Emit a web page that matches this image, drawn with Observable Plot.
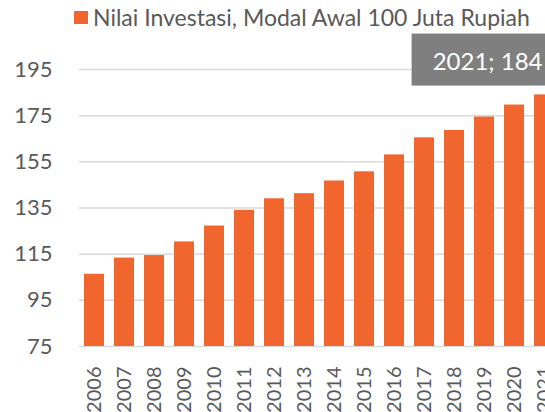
<!DOCTYPE html>
<html>
<head>
<meta charset="utf-8">
<script src="https://cdn.jsdelivr.net/npm/d3@7"></script>
<script src="https://cdn.jsdelivr.net/npm/@observablehq/plot@0.6"></script>
<style>
  html, body { margin: 0; padding: 0; background: #fff; overflow: hidden; }
  #wrap { position: relative; width: 545px; height: 412px; overflow: hidden; font-family: Lato, "Open Sans", sans-serif; }
  #legend { position: absolute; left: 74px; top: 3px; display: flex; align-items: center; color: #595959; font-size: 23px; white-space: nowrap; z-index: 2; }
  #legend .sw { width: 14px; height: 13px; margin-right: 5px; }
</style>
</head>
<body>
<div id="wrap">
  <div id="legend"><span class="sw"></span><span id="legtext"></span></div>
</div>
<script>
const seriesName = "Nilai Investasi, Modal Awal 100 Juta Rupiah";
const years = ["2006","2007","2008","2009","2010","2011","2012","2013","2014","2015","2016","2017","2018","2019","2020","2021"];
const values = [106.3, 113.3, 114.4, 120.3, 127.2, 134.0, 139.0, 141.2, 146.7, 150.7, 158.0, 165.4, 168.6, 174.4, 179.6, 184];
const yTicks = [75, 95, 115, 135, 155, 175, 195];
const calloutYear = "2021";

const orange = "#F1652F";
const gray = "#595959";

document.querySelector("#legend .sw").style.background = orange;
document.getElementById("legtext").textContent = seriesName;

const data = years.map((y, i) => ({year: y, value: values[i]}));
const callout = data.filter(d => d.year === calloutYear);

const chart = Plot.plot({
  width: 559,
  height: 412,
  marginLeft: 79,
  marginRight: 0,
  marginTop: 69,
  marginBottom: 66,
  style: {fontFamily: "Lato, 'Open Sans', sans-serif", maxWidth: "none", overflow: "visible", background: "transparent"},
  x: {domain: years, paddingInner: 1/3, paddingOuter: 1/6},
  y: {domain: [75, 195]},
  marks: [
    Plot.ruleY(yTicks, {stroke: "#d9d9d9", strokeWidth: 1.5}),
    Plot.barY(data, {x: "year", y1: 75, y2: "value", fill: orange}),
    Plot.axisY({ticks: yTicks, tickSize: 0, tickPadding: 27, fontSize: 22, fill: gray, label: null}),
    Plot.axisX({tickSize: 0, tickPadding: 20, tickRotate: -90, fontSize: 20, fill: gray, label: null}),
    Plot.text(callout, {x: "year", y: "value", text: d => `${d.year}; ${Math.round(d.value)}`, textAnchor: "end", dx: -2, dy: -33, fill: "white", fontSize: 24, className: "callout"})
  ]
});
chart.style.position = "absolute";
chart.style.left = "0px";
chart.style.top = "0px";
document.getElementById("wrap").appendChild(chart);

// gray box behind the data callout, sized from the rendered text
const svgNS = "http://www.w3.org/2000/svg";
chart.querySelectorAll(".callout text").forEach(t => {
  const b = t.getBBox();
  const r = document.createElementNS(svgNS, "rect");
  const tr = t.getAttribute("transform");
  if (tr) r.setAttribute("transform", tr);
  r.setAttribute("x", b.x - 21);
  r.setAttribute("y", b.y - 12);
  r.setAttribute("width", b.width + 21 + 140);
  r.setAttribute("height", b.height + 23);
  r.setAttribute("fill", "#7f7f7f");
  t.parentNode.insertBefore(r, t);
});
</script>
</body>
</html>
